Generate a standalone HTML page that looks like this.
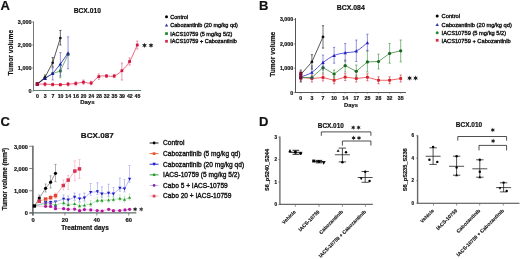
<!DOCTYPE html>
<html><head><meta charset="utf-8"><style>
html,body{margin:0;padding:0;background:#fff;}
svg{display:block;will-change:transform;}
text{font-family:"Liberation Sans", sans-serif;}
</style></head><body>
<svg width="520" height="259" viewBox="0 0 520 259">
<rect width="520" height="259" fill="#fff"/>
<text x="0.50" y="10.20" font-size="13" font-weight="bold" text-anchor="start" fill="#111" stroke="#111" stroke-width="0.18">A</text>
<text x="259.00" y="10.20" font-size="13" font-weight="bold" text-anchor="start" fill="#111" stroke="#111" stroke-width="0.18">B</text>
<text x="0.50" y="126.20" font-size="13" font-weight="bold" text-anchor="start" fill="#111" stroke="#111" stroke-width="0.18">C</text>
<text x="259.00" y="126.00" font-size="13" font-weight="bold" text-anchor="start" fill="#111" stroke="#111" stroke-width="0.18">D</text>
<line x1="33.50" y1="21.50" x2="33.50" y2="90.50" stroke="#777" stroke-width="1.0" opacity="1"/>
<line x1="33.00" y1="90.50" x2="141.20" y2="90.50" stroke="#5f7f77" stroke-width="1.0" opacity="1"/>
<line x1="32.20" y1="91.00" x2="33.60" y2="91.00" stroke="#5f6a6a" stroke-width="0.7" opacity="1"/>
<line x1="32.20" y1="68.00" x2="33.60" y2="68.00" stroke="#5f6a6a" stroke-width="0.7" opacity="1"/>
<line x1="32.20" y1="45.00" x2="33.60" y2="45.00" stroke="#5f6a6a" stroke-width="0.7" opacity="1"/>
<line x1="32.20" y1="22.00" x2="33.60" y2="22.00" stroke="#5f6a6a" stroke-width="0.7" opacity="1"/>
<text x="31.60" y="24.10" font-size="5.5" font-weight="bold" text-anchor="end" fill="#111" stroke="#111" stroke-width="0.18">3,000</text>
<text x="31.60" y="47.10" font-size="5.5" font-weight="bold" text-anchor="end" fill="#111" stroke="#111" stroke-width="0.18">2,000</text>
<text x="31.60" y="70.10" font-size="5.5" font-weight="bold" text-anchor="end" fill="#111" stroke="#111" stroke-width="0.18">1,000</text>
<text x="31.60" y="93.10" font-size="5.5" font-weight="bold" text-anchor="end" fill="#111" stroke="#111" stroke-width="0.18">0</text>
<text x="37.50" y="97.70" font-size="5.2" font-weight="bold" text-anchor="middle" fill="#111" stroke="#111" stroke-width="0.18">0</text>
<text x="45.19" y="97.70" font-size="5.2" font-weight="bold" text-anchor="middle" fill="#111" stroke="#111" stroke-width="0.18">3</text>
<text x="52.88" y="97.70" font-size="5.2" font-weight="bold" text-anchor="middle" fill="#111" stroke="#111" stroke-width="0.18">7</text>
<text x="60.57" y="97.70" font-size="5.2" font-weight="bold" text-anchor="middle" fill="#111" stroke="#111" stroke-width="0.18">10</text>
<text x="68.26" y="97.70" font-size="5.2" font-weight="bold" text-anchor="middle" fill="#111" stroke="#111" stroke-width="0.18">14</text>
<text x="75.95" y="97.70" font-size="5.2" font-weight="bold" text-anchor="middle" fill="#111" stroke="#111" stroke-width="0.18">16</text>
<text x="83.64" y="97.70" font-size="5.2" font-weight="bold" text-anchor="middle" fill="#111" stroke="#111" stroke-width="0.18">20</text>
<text x="91.33" y="97.70" font-size="5.2" font-weight="bold" text-anchor="middle" fill="#111" stroke="#111" stroke-width="0.18">24</text>
<text x="99.02" y="97.70" font-size="5.2" font-weight="bold" text-anchor="middle" fill="#111" stroke="#111" stroke-width="0.18">28</text>
<text x="106.71" y="97.70" font-size="5.2" font-weight="bold" text-anchor="middle" fill="#111" stroke="#111" stroke-width="0.18">32</text>
<text x="114.40" y="97.70" font-size="5.2" font-weight="bold" text-anchor="middle" fill="#111" stroke="#111" stroke-width="0.18">35</text>
<text x="122.09" y="97.70" font-size="5.2" font-weight="bold" text-anchor="middle" fill="#111" stroke="#111" stroke-width="0.18">39</text>
<text x="129.78" y="97.70" font-size="5.2" font-weight="bold" text-anchor="middle" fill="#111" stroke="#111" stroke-width="0.18">42</text>
<text x="137.47" y="97.70" font-size="5.2" font-weight="bold" text-anchor="middle" fill="#111" stroke="#111" stroke-width="0.18">45</text>
<text x="87.30" y="104.40" font-size="6.0" font-weight="bold" text-anchor="middle" fill="#111" stroke="#111" stroke-width="0.18">Days</text>
<text x="12.90" y="52.70" font-size="6.7" font-weight="bold" text-anchor="middle" fill="#111" transform="rotate(-90 12.90 52.70)" textLength="45.6" lengthAdjust="spacingAndGlyphs" stroke="#111" stroke-width="0.18">Tumor volume</text>
<text x="87.30" y="12.95" font-size="7.1" font-weight="bold" text-anchor="middle" fill="#111" textLength="27.2" lengthAdjust="spacingAndGlyphs" stroke="#111" stroke-width="0.18">BCX.010</text>
<path d="M144.50,42.70 L145.12,44.32 L146.84,44.05 L145.75,45.40 L146.84,46.75 L145.12,46.48 L144.50,48.10 L143.88,46.48 L142.16,46.75 L143.25,45.40 L142.16,44.05 L143.88,44.32Z" fill="#222"/>
<path d="M151.00,42.70 L151.62,44.32 L153.34,44.05 L152.25,45.40 L153.34,46.75 L151.62,46.48 L151.00,48.10 L150.38,46.48 L148.66,46.75 L149.75,45.40 L148.66,44.05 L150.38,44.32Z" fill="#222"/>
<circle cx="166.50" cy="16.70" r="1.50" fill="#000" opacity="1"/>
<polygon points="166.50,23.44 164.84,26.48 168.16,26.48" fill="#3232a8" opacity="1"/>
<rect x="165.12" y="32.22" width="2.76" height="2.76" fill="#1f8a35" opacity="1"/>
<rect x="165.12" y="39.92" width="2.76" height="2.76" fill="#d83048" opacity="1"/>
<path d="M37.30,84.00 C38.58,84.03 42.43,84.12 44.99,84.20 C47.55,84.28 50.12,84.42 52.68,84.50 C55.24,84.58 57.81,84.75 60.37,84.70 C62.93,84.65 65.50,84.40 68.06,84.20 C70.62,84.00 73.19,83.83 75.75,83.50 C78.31,83.17 80.88,82.28 83.44,82.20 C86.00,82.12 88.57,83.93 91.13,83.00 C93.69,82.07 96.26,77.77 98.82,76.60 C101.38,75.43 103.95,76.10 106.51,76.00 C109.07,75.90 111.64,76.88 114.20,76.00 C116.76,75.12 119.33,73.12 121.89,70.70 C124.45,68.28 127.02,65.78 129.58,61.50 C132.14,57.22 135.99,47.75 137.27,45.00" fill="none" stroke="#ec3c5c" stroke-width="0.8" opacity="1"/>
<line x1="37.30" y1="82.50" x2="37.30" y2="85.50" stroke="#dc5a78" stroke-width="0.6" opacity="1"/>
<line x1="36.20" y1="82.50" x2="38.40" y2="82.50" stroke="#dc5a78" stroke-width="0.6" opacity="1"/>
<line x1="36.20" y1="85.50" x2="38.40" y2="85.50" stroke="#dc5a78" stroke-width="0.6" opacity="1"/>
<line x1="44.99" y1="82.50" x2="44.99" y2="86.00" stroke="#dc5a78" stroke-width="0.6" opacity="1"/>
<line x1="43.89" y1="82.50" x2="46.09" y2="82.50" stroke="#dc5a78" stroke-width="0.6" opacity="1"/>
<line x1="43.89" y1="86.00" x2="46.09" y2="86.00" stroke="#dc5a78" stroke-width="0.6" opacity="1"/>
<line x1="52.68" y1="83.00" x2="52.68" y2="86.00" stroke="#dc5a78" stroke-width="0.6" opacity="1"/>
<line x1="51.58" y1="83.00" x2="53.78" y2="83.00" stroke="#dc5a78" stroke-width="0.6" opacity="1"/>
<line x1="51.58" y1="86.00" x2="53.78" y2="86.00" stroke="#dc5a78" stroke-width="0.6" opacity="1"/>
<line x1="60.37" y1="83.50" x2="60.37" y2="86.00" stroke="#dc5a78" stroke-width="0.6" opacity="1"/>
<line x1="59.27" y1="83.50" x2="61.47" y2="83.50" stroke="#dc5a78" stroke-width="0.6" opacity="1"/>
<line x1="59.27" y1="86.00" x2="61.47" y2="86.00" stroke="#dc5a78" stroke-width="0.6" opacity="1"/>
<line x1="68.06" y1="82.50" x2="68.06" y2="86.00" stroke="#dc5a78" stroke-width="0.6" opacity="1"/>
<line x1="66.96" y1="82.50" x2="69.16" y2="82.50" stroke="#dc5a78" stroke-width="0.6" opacity="1"/>
<line x1="66.96" y1="86.00" x2="69.16" y2="86.00" stroke="#dc5a78" stroke-width="0.6" opacity="1"/>
<line x1="75.75" y1="81.80" x2="75.75" y2="85.20" stroke="#dc5a78" stroke-width="0.6" opacity="1"/>
<line x1="74.65" y1="81.80" x2="76.85" y2="81.80" stroke="#dc5a78" stroke-width="0.6" opacity="1"/>
<line x1="74.65" y1="85.20" x2="76.85" y2="85.20" stroke="#dc5a78" stroke-width="0.6" opacity="1"/>
<line x1="83.44" y1="80.00" x2="83.44" y2="84.30" stroke="#dc5a78" stroke-width="0.6" opacity="1"/>
<line x1="82.34" y1="80.00" x2="84.54" y2="80.00" stroke="#dc5a78" stroke-width="0.6" opacity="1"/>
<line x1="82.34" y1="84.30" x2="84.54" y2="84.30" stroke="#dc5a78" stroke-width="0.6" opacity="1"/>
<line x1="91.13" y1="81.20" x2="91.13" y2="84.80" stroke="#dc5a78" stroke-width="0.6" opacity="1"/>
<line x1="90.03" y1="81.20" x2="92.23" y2="81.20" stroke="#dc5a78" stroke-width="0.6" opacity="1"/>
<line x1="90.03" y1="84.80" x2="92.23" y2="84.80" stroke="#dc5a78" stroke-width="0.6" opacity="1"/>
<line x1="98.82" y1="74.00" x2="98.82" y2="79.30" stroke="#dc5a78" stroke-width="0.6" opacity="1"/>
<line x1="97.72" y1="74.00" x2="99.92" y2="74.00" stroke="#dc5a78" stroke-width="0.6" opacity="1"/>
<line x1="97.72" y1="79.30" x2="99.92" y2="79.30" stroke="#dc5a78" stroke-width="0.6" opacity="1"/>
<line x1="106.51" y1="74.50" x2="106.51" y2="77.60" stroke="#dc5a78" stroke-width="0.6" opacity="1"/>
<line x1="105.41" y1="74.50" x2="107.61" y2="74.50" stroke="#dc5a78" stroke-width="0.6" opacity="1"/>
<line x1="105.41" y1="77.60" x2="107.61" y2="77.60" stroke="#dc5a78" stroke-width="0.6" opacity="1"/>
<line x1="114.20" y1="74.50" x2="114.20" y2="77.60" stroke="#dc5a78" stroke-width="0.6" opacity="1"/>
<line x1="113.10" y1="74.50" x2="115.30" y2="74.50" stroke="#dc5a78" stroke-width="0.6" opacity="1"/>
<line x1="113.10" y1="77.60" x2="115.30" y2="77.60" stroke="#dc5a78" stroke-width="0.6" opacity="1"/>
<line x1="121.89" y1="63.00" x2="121.89" y2="80.00" stroke="#dc5a78" stroke-width="0.6" opacity="1"/>
<line x1="120.79" y1="63.00" x2="122.99" y2="63.00" stroke="#dc5a78" stroke-width="0.6" opacity="1"/>
<line x1="120.79" y1="80.00" x2="122.99" y2="80.00" stroke="#dc5a78" stroke-width="0.6" opacity="1"/>
<line x1="129.58" y1="58.00" x2="129.58" y2="65.00" stroke="#dc5a78" stroke-width="0.6" opacity="1"/>
<line x1="128.48" y1="58.00" x2="130.68" y2="58.00" stroke="#dc5a78" stroke-width="0.6" opacity="1"/>
<line x1="128.48" y1="65.00" x2="130.68" y2="65.00" stroke="#dc5a78" stroke-width="0.6" opacity="1"/>
<line x1="137.27" y1="41.00" x2="137.27" y2="49.00" stroke="#dc5a78" stroke-width="0.6" opacity="1"/>
<line x1="136.17" y1="41.00" x2="138.37" y2="41.00" stroke="#dc5a78" stroke-width="0.6" opacity="1"/>
<line x1="136.17" y1="49.00" x2="138.37" y2="49.00" stroke="#dc5a78" stroke-width="0.6" opacity="1"/>
<rect x="35.92" y="82.62" width="2.76" height="2.76" fill="#d0143c" opacity="1"/>
<rect x="43.61" y="82.82" width="2.76" height="2.76" fill="#d0143c" opacity="1"/>
<rect x="51.30" y="83.12" width="2.76" height="2.76" fill="#d0143c" opacity="1"/>
<rect x="58.99" y="83.32" width="2.76" height="2.76" fill="#d0143c" opacity="1"/>
<rect x="66.68" y="82.82" width="2.76" height="2.76" fill="#d0143c" opacity="1"/>
<rect x="74.37" y="82.12" width="2.76" height="2.76" fill="#d0143c" opacity="1"/>
<rect x="82.06" y="80.82" width="2.76" height="2.76" fill="#d0143c" opacity="1"/>
<rect x="89.75" y="81.62" width="2.76" height="2.76" fill="#d0143c" opacity="1"/>
<rect x="97.44" y="75.22" width="2.76" height="2.76" fill="#d0143c" opacity="1"/>
<rect x="105.13" y="74.62" width="2.76" height="2.76" fill="#d0143c" opacity="1"/>
<rect x="112.82" y="74.62" width="2.76" height="2.76" fill="#d0143c" opacity="1"/>
<rect x="120.51" y="69.32" width="2.76" height="2.76" fill="#d0143c" opacity="1"/>
<rect x="128.20" y="60.12" width="2.76" height="2.76" fill="#d0143c" opacity="1"/>
<rect x="135.89" y="43.62" width="2.76" height="2.76" fill="#d0143c" opacity="1"/>
<polyline points="37.30,84.00 44.99,78.40 52.68,73.60 60.37,71.00 68.06,54.50" fill="none" stroke="#4a8a4a" stroke-width="0.7" stroke-linejoin="round" opacity="1"/>
<line x1="60.37" y1="66.00" x2="60.37" y2="77.70" stroke="#3a8a3a" stroke-width="0.6" opacity="1"/>
<line x1="59.27" y1="66.00" x2="61.47" y2="66.00" stroke="#3a8a3a" stroke-width="0.6" opacity="1"/>
<line x1="59.27" y1="77.70" x2="61.47" y2="77.70" stroke="#3a8a3a" stroke-width="0.6" opacity="1"/>
<rect x="35.92" y="82.62" width="2.76" height="2.76" fill="#1f6f25" opacity="1"/>
<rect x="43.61" y="77.02" width="2.76" height="2.76" fill="#1f6f25" opacity="1"/>
<rect x="51.30" y="72.22" width="2.76" height="2.76" fill="#1f6f25" opacity="1"/>
<rect x="58.99" y="69.62" width="2.76" height="2.76" fill="#1f6f25" opacity="1"/>
<rect x="66.68" y="53.12" width="2.76" height="2.76" fill="#1f6f25" opacity="1"/>
<polyline points="37.30,84.00 44.99,78.20 52.68,73.60 60.37,64.10 68.06,53.10" fill="none" stroke="#3030b4" stroke-width="0.85" stroke-linejoin="round" opacity="1"/>
<line x1="52.68" y1="68.00" x2="52.68" y2="80.00" stroke="#5050c4" stroke-width="0.6" opacity="1"/>
<line x1="51.58" y1="68.00" x2="53.78" y2="68.00" stroke="#5050c4" stroke-width="0.6" opacity="1"/>
<line x1="51.58" y1="80.00" x2="53.78" y2="80.00" stroke="#5050c4" stroke-width="0.6" opacity="1"/>
<line x1="60.37" y1="52.60" x2="60.37" y2="76.00" stroke="#5050c4" stroke-width="0.6" opacity="1"/>
<line x1="59.27" y1="52.60" x2="61.47" y2="52.60" stroke="#5050c4" stroke-width="0.6" opacity="1"/>
<line x1="59.27" y1="76.00" x2="61.47" y2="76.00" stroke="#5050c4" stroke-width="0.6" opacity="1"/>
<line x1="68.06" y1="36.90" x2="68.06" y2="68.80" stroke="#5050c4" stroke-width="0.6" opacity="1"/>
<line x1="66.96" y1="36.90" x2="69.16" y2="36.90" stroke="#5050c4" stroke-width="0.6" opacity="1"/>
<line x1="66.96" y1="68.80" x2="69.16" y2="68.80" stroke="#5050c4" stroke-width="0.6" opacity="1"/>
<polygon points="37.30,82.27 35.57,85.44 39.03,85.44" fill="#1e1ea0" opacity="1"/>
<polygon points="44.99,76.47 43.26,79.64 46.72,79.64" fill="#1e1ea0" opacity="1"/>
<polygon points="52.68,71.87 50.95,75.04 54.41,75.04" fill="#1e1ea0" opacity="1"/>
<polygon points="60.37,62.37 58.64,65.54 62.10,65.54" fill="#1e1ea0" opacity="1"/>
<polygon points="68.06,51.37 66.33,54.54 69.79,54.54" fill="#1e1ea0" opacity="1"/>
<polyline points="37.30,84.00 44.99,77.20 52.68,62.70 60.37,38.00" fill="none" stroke="#111" stroke-width="0.7" stroke-linejoin="round" opacity="1"/>
<line x1="44.99" y1="75.00" x2="44.99" y2="79.50" stroke="#111" stroke-width="0.6" opacity="1"/>
<line x1="43.89" y1="75.00" x2="46.09" y2="75.00" stroke="#111" stroke-width="0.6" opacity="1"/>
<line x1="43.89" y1="79.50" x2="46.09" y2="79.50" stroke="#111" stroke-width="0.6" opacity="1"/>
<line x1="52.68" y1="57.50" x2="52.68" y2="67.00" stroke="#111" stroke-width="0.6" opacity="1"/>
<line x1="51.58" y1="57.50" x2="53.78" y2="57.50" stroke="#111" stroke-width="0.6" opacity="1"/>
<line x1="51.58" y1="67.00" x2="53.78" y2="67.00" stroke="#111" stroke-width="0.6" opacity="1"/>
<line x1="60.37" y1="30.40" x2="60.37" y2="45.00" stroke="#111" stroke-width="0.6" opacity="1"/>
<line x1="59.27" y1="30.40" x2="61.47" y2="30.40" stroke="#111" stroke-width="0.6" opacity="1"/>
<line x1="59.27" y1="45.00" x2="61.47" y2="45.00" stroke="#111" stroke-width="0.6" opacity="1"/>
<circle cx="37.30" cy="84.00" r="1.32" fill="#111" opacity="1"/>
<circle cx="44.99" cy="77.20" r="1.32" fill="#111" opacity="1"/>
<circle cx="52.68" cy="62.70" r="1.32" fill="#111" opacity="1"/>
<circle cx="60.37" cy="38.00" r="1.32" fill="#111" opacity="1"/>
<polygon points="44.99,76.67 43.26,79.84 46.72,79.84" fill="#1e1ea0" opacity="1"/>
<rect x="35.56" y="82.26" width="3.48" height="3.48" fill="#a01030" opacity="1"/>
<text x="170.30" y="18.60" font-size="5.5" font-weight="normal" text-anchor="start" fill="#111" stroke="#111" stroke-width="0.35">Control</text>
<text x="170.30" y="27.00" font-size="5.5" font-weight="normal" text-anchor="start" fill="#111" stroke="#111" stroke-width="0.35">Cabozantinib (20 mg/kg qd)</text>
<text x="170.30" y="35.50" font-size="5.5" font-weight="normal" text-anchor="start" fill="#111" stroke="#111" stroke-width="0.35">IACS10759 (5 mg/kg 5/2)</text>
<text x="170.30" y="43.20" font-size="5.5" font-weight="normal" text-anchor="start" fill="#111" stroke="#111" stroke-width="0.35">IACS10759 + Cabozantinib</text>
<line x1="295.50" y1="18.00" x2="295.50" y2="92.50" stroke="#555" stroke-width="1.0" opacity="1"/>
<line x1="295.00" y1="92.50" x2="406.00" y2="92.50" stroke="#555" stroke-width="1.0" opacity="1"/>
<line x1="293.70" y1="19.50" x2="295.20" y2="19.50" stroke="#5f6a6a" stroke-width="0.7" opacity="1"/>
<line x1="293.70" y1="43.90" x2="295.20" y2="43.90" stroke="#5f6a6a" stroke-width="0.7" opacity="1"/>
<line x1="293.70" y1="68.20" x2="295.20" y2="68.20" stroke="#5f6a6a" stroke-width="0.7" opacity="1"/>
<line x1="293.70" y1="92.60" x2="295.20" y2="92.60" stroke="#5f6a6a" stroke-width="0.7" opacity="1"/>
<line x1="300.80" y1="92.60" x2="300.80" y2="93.80" stroke="#5f6a6a" stroke-width="0.6" opacity="1"/>
<line x1="311.90" y1="92.60" x2="311.90" y2="93.80" stroke="#5f6a6a" stroke-width="0.6" opacity="1"/>
<line x1="323.00" y1="92.60" x2="323.00" y2="93.80" stroke="#5f6a6a" stroke-width="0.6" opacity="1"/>
<line x1="334.10" y1="92.60" x2="334.10" y2="93.80" stroke="#5f6a6a" stroke-width="0.6" opacity="1"/>
<line x1="345.20" y1="92.60" x2="345.20" y2="93.80" stroke="#5f6a6a" stroke-width="0.6" opacity="1"/>
<line x1="356.30" y1="92.60" x2="356.30" y2="93.80" stroke="#5f6a6a" stroke-width="0.6" opacity="1"/>
<line x1="367.40" y1="92.60" x2="367.40" y2="93.80" stroke="#5f6a6a" stroke-width="0.6" opacity="1"/>
<line x1="378.50" y1="92.60" x2="378.50" y2="93.80" stroke="#5f6a6a" stroke-width="0.6" opacity="1"/>
<line x1="389.60" y1="92.60" x2="389.60" y2="93.80" stroke="#5f6a6a" stroke-width="0.6" opacity="1"/>
<line x1="400.70" y1="92.60" x2="400.70" y2="93.80" stroke="#5f6a6a" stroke-width="0.6" opacity="1"/>
<text x="293.20" y="21.40" font-size="5.3" font-weight="bold" text-anchor="end" fill="#111" stroke="#111" stroke-width="0.18">3,000</text>
<text x="293.20" y="45.80" font-size="5.3" font-weight="bold" text-anchor="end" fill="#111" stroke="#111" stroke-width="0.18">2,000</text>
<text x="293.20" y="70.10" font-size="5.3" font-weight="bold" text-anchor="end" fill="#111" stroke="#111" stroke-width="0.18">1,000</text>
<text x="293.20" y="94.50" font-size="5.3" font-weight="bold" text-anchor="end" fill="#111" stroke="#111" stroke-width="0.18">0</text>
<text x="300.80" y="99.90" font-size="5.2" font-weight="bold" text-anchor="middle" fill="#111" stroke="#111" stroke-width="0.18">0</text>
<text x="311.90" y="99.90" font-size="5.2" font-weight="bold" text-anchor="middle" fill="#111" stroke="#111" stroke-width="0.18">3</text>
<text x="323.00" y="99.90" font-size="5.2" font-weight="bold" text-anchor="middle" fill="#111" stroke="#111" stroke-width="0.18">7</text>
<text x="334.10" y="99.90" font-size="5.2" font-weight="bold" text-anchor="middle" fill="#111" stroke="#111" stroke-width="0.18">10</text>
<text x="345.20" y="99.90" font-size="5.2" font-weight="bold" text-anchor="middle" fill="#111" stroke="#111" stroke-width="0.18">14</text>
<text x="356.30" y="99.90" font-size="5.2" font-weight="bold" text-anchor="middle" fill="#111" stroke="#111" stroke-width="0.18">17</text>
<text x="367.40" y="99.90" font-size="5.2" font-weight="bold" text-anchor="middle" fill="#111" stroke="#111" stroke-width="0.18">25</text>
<text x="378.50" y="99.90" font-size="5.2" font-weight="bold" text-anchor="middle" fill="#111" stroke="#111" stroke-width="0.18">28</text>
<text x="389.60" y="99.90" font-size="5.2" font-weight="bold" text-anchor="middle" fill="#111" stroke="#111" stroke-width="0.18">32</text>
<text x="400.70" y="99.90" font-size="5.2" font-weight="bold" text-anchor="middle" fill="#111" stroke="#111" stroke-width="0.18">35</text>
<text x="351.00" y="106.50" font-size="5.8" font-weight="bold" text-anchor="middle" fill="#111" stroke="#111" stroke-width="0.18">Days</text>
<text x="274.80" y="54.25" font-size="6.6" font-weight="bold" text-anchor="middle" fill="#111" transform="rotate(-90 274.80 54.25)" textLength="45.0" lengthAdjust="spacingAndGlyphs" stroke="#111" stroke-width="0.18">Tumor volume</text>
<text x="350.80" y="10.00" font-size="6.6" font-weight="bold" text-anchor="middle" fill="#111" textLength="27.9" lengthAdjust="spacingAndGlyphs" stroke="#111" stroke-width="0.18">BCX.084</text>
<path d="M409.60,75.40 L410.23,77.02 L411.94,76.75 L410.85,78.10 L411.94,79.45 L410.23,79.18 L409.60,80.80 L408.98,79.18 L407.26,79.45 L408.35,78.10 L407.26,76.75 L408.98,77.02Z" fill="#222"/>
<path d="M415.60,75.40 L416.23,77.02 L417.94,76.75 L416.85,78.10 L417.94,79.45 L416.23,79.18 L415.60,80.80 L414.98,79.18 L413.26,79.45 L414.35,78.10 L413.26,76.75 L414.98,77.02Z" fill="#222"/>
<circle cx="437.20" cy="16.10" r="1.50" fill="#000" opacity="1"/>
<polygon points="437.20,22.94 435.54,25.98 438.86,25.98" fill="#3232b8" opacity="1"/>
<circle cx="437.20" cy="32.70" r="1.50" fill="#1f8a35" opacity="1"/>
<rect x="435.82" y="38.92" width="2.76" height="2.76" fill="#d83048" opacity="1"/>
<text x="441.60" y="18.40" font-size="5.73" font-weight="normal" text-anchor="start" fill="#111" stroke="#111" stroke-width="0.35">Control</text>
<text x="441.60" y="26.90" font-size="5.73" font-weight="normal" text-anchor="start" fill="#111" stroke="#111" stroke-width="0.35">Cabozantinib (20 mg/kg qd)</text>
<text x="441.60" y="35.00" font-size="5.73" font-weight="normal" text-anchor="start" fill="#111" stroke="#111" stroke-width="0.35">IACS10759 (5 mg/kg 5/2)</text>
<text x="441.60" y="42.60" font-size="5.73" font-weight="normal" text-anchor="start" fill="#111" stroke="#111" stroke-width="0.35">IACS10759 + Cabozantinib</text>
<polyline points="300.80,77.50 311.90,78.50 323.00,77.50 334.10,80.30 345.20,77.10 356.30,78.50 367.40,77.25 378.50,80.25 389.60,80.25 400.70,78.50" fill="none" stroke="#e84040" stroke-width="0.8" stroke-linejoin="round" opacity="1"/>
<line x1="300.80" y1="74.00" x2="300.80" y2="81.00" stroke="#c83040" stroke-width="0.6" opacity="1"/>
<line x1="299.70" y1="74.00" x2="301.90" y2="74.00" stroke="#c83040" stroke-width="0.6" opacity="1"/>
<line x1="299.70" y1="81.00" x2="301.90" y2="81.00" stroke="#c83040" stroke-width="0.6" opacity="1"/>
<line x1="311.90" y1="75.00" x2="311.90" y2="82.00" stroke="#c83040" stroke-width="0.6" opacity="1"/>
<line x1="310.80" y1="75.00" x2="313.00" y2="75.00" stroke="#c83040" stroke-width="0.6" opacity="1"/>
<line x1="310.80" y1="82.00" x2="313.00" y2="82.00" stroke="#c83040" stroke-width="0.6" opacity="1"/>
<line x1="323.00" y1="74.00" x2="323.00" y2="81.00" stroke="#c83040" stroke-width="0.6" opacity="1"/>
<line x1="321.90" y1="74.00" x2="324.10" y2="74.00" stroke="#c83040" stroke-width="0.6" opacity="1"/>
<line x1="321.90" y1="81.00" x2="324.10" y2="81.00" stroke="#c83040" stroke-width="0.6" opacity="1"/>
<line x1="334.10" y1="76.80" x2="334.10" y2="83.80" stroke="#c83040" stroke-width="0.6" opacity="1"/>
<line x1="333.00" y1="76.80" x2="335.20" y2="76.80" stroke="#c83040" stroke-width="0.6" opacity="1"/>
<line x1="333.00" y1="83.80" x2="335.20" y2="83.80" stroke="#c83040" stroke-width="0.6" opacity="1"/>
<line x1="345.20" y1="73.60" x2="345.20" y2="80.60" stroke="#c83040" stroke-width="0.6" opacity="1"/>
<line x1="344.10" y1="73.60" x2="346.30" y2="73.60" stroke="#c83040" stroke-width="0.6" opacity="1"/>
<line x1="344.10" y1="80.60" x2="346.30" y2="80.60" stroke="#c83040" stroke-width="0.6" opacity="1"/>
<line x1="356.30" y1="75.00" x2="356.30" y2="82.00" stroke="#c83040" stroke-width="0.6" opacity="1"/>
<line x1="355.20" y1="75.00" x2="357.40" y2="75.00" stroke="#c83040" stroke-width="0.6" opacity="1"/>
<line x1="355.20" y1="82.00" x2="357.40" y2="82.00" stroke="#c83040" stroke-width="0.6" opacity="1"/>
<line x1="367.40" y1="73.75" x2="367.40" y2="80.75" stroke="#c83040" stroke-width="0.6" opacity="1"/>
<line x1="366.30" y1="73.75" x2="368.50" y2="73.75" stroke="#c83040" stroke-width="0.6" opacity="1"/>
<line x1="366.30" y1="80.75" x2="368.50" y2="80.75" stroke="#c83040" stroke-width="0.6" opacity="1"/>
<line x1="378.50" y1="76.75" x2="378.50" y2="83.75" stroke="#c83040" stroke-width="0.6" opacity="1"/>
<line x1="377.40" y1="76.75" x2="379.60" y2="76.75" stroke="#c83040" stroke-width="0.6" opacity="1"/>
<line x1="377.40" y1="83.75" x2="379.60" y2="83.75" stroke="#c83040" stroke-width="0.6" opacity="1"/>
<line x1="389.60" y1="76.75" x2="389.60" y2="83.75" stroke="#c83040" stroke-width="0.6" opacity="1"/>
<line x1="388.50" y1="76.75" x2="390.70" y2="76.75" stroke="#c83040" stroke-width="0.6" opacity="1"/>
<line x1="388.50" y1="83.75" x2="390.70" y2="83.75" stroke="#c83040" stroke-width="0.6" opacity="1"/>
<line x1="400.70" y1="75.00" x2="400.70" y2="82.00" stroke="#c83040" stroke-width="0.6" opacity="1"/>
<line x1="399.60" y1="75.00" x2="401.80" y2="75.00" stroke="#c83040" stroke-width="0.6" opacity="1"/>
<line x1="399.60" y1="82.00" x2="401.80" y2="82.00" stroke="#c83040" stroke-width="0.6" opacity="1"/>
<rect x="299.42" y="76.12" width="2.76" height="2.76" fill="#d81e2a" opacity="1"/>
<rect x="310.52" y="77.12" width="2.76" height="2.76" fill="#d81e2a" opacity="1"/>
<rect x="321.62" y="76.12" width="2.76" height="2.76" fill="#d81e2a" opacity="1"/>
<rect x="332.72" y="78.92" width="2.76" height="2.76" fill="#d81e2a" opacity="1"/>
<rect x="343.82" y="75.72" width="2.76" height="2.76" fill="#d81e2a" opacity="1"/>
<rect x="354.92" y="77.12" width="2.76" height="2.76" fill="#d81e2a" opacity="1"/>
<rect x="366.02" y="75.87" width="2.76" height="2.76" fill="#d81e2a" opacity="1"/>
<rect x="377.12" y="78.87" width="2.76" height="2.76" fill="#d81e2a" opacity="1"/>
<rect x="388.22" y="78.87" width="2.76" height="2.76" fill="#d81e2a" opacity="1"/>
<rect x="399.32" y="77.12" width="2.76" height="2.76" fill="#d81e2a" opacity="1"/>
<polyline points="300.80,77.50 311.90,77.50 323.00,67.60 334.10,74.00 345.20,65.60 356.30,71.30 367.40,61.90 378.50,61.50 389.60,53.40 400.70,50.80" fill="none" stroke="#3c8a3c" stroke-width="0.8" stroke-linejoin="round" opacity="1"/>
<line x1="323.00" y1="62.00" x2="323.00" y2="73.00" stroke="#3a8a3a" stroke-width="0.6" opacity="1"/>
<line x1="321.90" y1="62.00" x2="324.10" y2="62.00" stroke="#3a8a3a" stroke-width="0.6" opacity="1"/>
<line x1="321.90" y1="73.00" x2="324.10" y2="73.00" stroke="#3a8a3a" stroke-width="0.6" opacity="1"/>
<line x1="334.10" y1="70.00" x2="334.10" y2="78.00" stroke="#3a8a3a" stroke-width="0.6" opacity="1"/>
<line x1="333.00" y1="70.00" x2="335.20" y2="70.00" stroke="#3a8a3a" stroke-width="0.6" opacity="1"/>
<line x1="333.00" y1="78.00" x2="335.20" y2="78.00" stroke="#3a8a3a" stroke-width="0.6" opacity="1"/>
<line x1="345.20" y1="60.00" x2="345.20" y2="72.00" stroke="#3a8a3a" stroke-width="0.6" opacity="1"/>
<line x1="344.10" y1="60.00" x2="346.30" y2="60.00" stroke="#3a8a3a" stroke-width="0.6" opacity="1"/>
<line x1="344.10" y1="72.00" x2="346.30" y2="72.00" stroke="#3a8a3a" stroke-width="0.6" opacity="1"/>
<line x1="356.30" y1="65.00" x2="356.30" y2="77.00" stroke="#3a8a3a" stroke-width="0.6" opacity="1"/>
<line x1="355.20" y1="65.00" x2="357.40" y2="65.00" stroke="#3a8a3a" stroke-width="0.6" opacity="1"/>
<line x1="355.20" y1="77.00" x2="357.40" y2="77.00" stroke="#3a8a3a" stroke-width="0.6" opacity="1"/>
<line x1="367.40" y1="50.40" x2="367.40" y2="72.00" stroke="#3a8a3a" stroke-width="0.6" opacity="1"/>
<line x1="366.30" y1="50.40" x2="368.50" y2="50.40" stroke="#3a8a3a" stroke-width="0.6" opacity="1"/>
<line x1="366.30" y1="72.00" x2="368.50" y2="72.00" stroke="#3a8a3a" stroke-width="0.6" opacity="1"/>
<line x1="378.50" y1="54.20" x2="378.50" y2="69.00" stroke="#3a8a3a" stroke-width="0.6" opacity="1"/>
<line x1="377.40" y1="54.20" x2="379.60" y2="54.20" stroke="#3a8a3a" stroke-width="0.6" opacity="1"/>
<line x1="377.40" y1="69.00" x2="379.60" y2="69.00" stroke="#3a8a3a" stroke-width="0.6" opacity="1"/>
<line x1="389.60" y1="43.40" x2="389.60" y2="63.20" stroke="#3a8a3a" stroke-width="0.6" opacity="1"/>
<line x1="388.50" y1="43.40" x2="390.70" y2="43.40" stroke="#3a8a3a" stroke-width="0.6" opacity="1"/>
<line x1="388.50" y1="63.20" x2="390.70" y2="63.20" stroke="#3a8a3a" stroke-width="0.6" opacity="1"/>
<line x1="400.70" y1="40.00" x2="400.70" y2="61.90" stroke="#3a8a3a" stroke-width="0.6" opacity="1"/>
<line x1="399.60" y1="40.00" x2="401.80" y2="40.00" stroke="#3a8a3a" stroke-width="0.6" opacity="1"/>
<line x1="399.60" y1="61.90" x2="401.80" y2="61.90" stroke="#3a8a3a" stroke-width="0.6" opacity="1"/>
<circle cx="300.80" cy="77.50" r="1.62" fill="#17661d" opacity="1"/>
<circle cx="311.90" cy="77.50" r="1.62" fill="#17661d" opacity="1"/>
<circle cx="323.00" cy="67.60" r="1.62" fill="#17661d" opacity="1"/>
<circle cx="334.10" cy="74.00" r="1.62" fill="#17661d" opacity="1"/>
<circle cx="345.20" cy="65.60" r="1.62" fill="#17661d" opacity="1"/>
<circle cx="356.30" cy="71.30" r="1.62" fill="#17661d" opacity="1"/>
<circle cx="367.40" cy="61.90" r="1.62" fill="#17661d" opacity="1"/>
<circle cx="378.50" cy="61.50" r="1.62" fill="#17661d" opacity="1"/>
<circle cx="389.60" cy="53.40" r="1.62" fill="#17661d" opacity="1"/>
<circle cx="400.70" cy="50.80" r="1.62" fill="#17661d" opacity="1"/>
<path d="M300.80,77.00 C302.65,76.23 308.20,74.80 311.90,72.40 C315.60,70.00 319.30,65.42 323.00,62.60 C326.70,59.78 330.40,57.13 334.10,55.50 C337.80,53.87 341.50,53.55 345.20,52.80 C348.90,52.05 352.60,52.68 356.30,51.00 C360.00,49.32 365.55,44.08 367.40,42.70" fill="none" stroke="#3636d6" stroke-width="0.85" opacity="1"/>
<line x1="311.90" y1="66.00" x2="311.90" y2="79.00" stroke="#4a4ac8" stroke-width="0.6" opacity="1"/>
<line x1="310.80" y1="66.00" x2="313.00" y2="66.00" stroke="#4a4ac8" stroke-width="0.6" opacity="1"/>
<line x1="310.80" y1="79.00" x2="313.00" y2="79.00" stroke="#4a4ac8" stroke-width="0.6" opacity="1"/>
<line x1="323.00" y1="55.10" x2="323.00" y2="70.00" stroke="#4a4ac8" stroke-width="0.6" opacity="1"/>
<line x1="321.90" y1="55.10" x2="324.10" y2="55.10" stroke="#4a4ac8" stroke-width="0.6" opacity="1"/>
<line x1="321.90" y1="70.00" x2="324.10" y2="70.00" stroke="#4a4ac8" stroke-width="0.6" opacity="1"/>
<line x1="334.10" y1="47.40" x2="334.10" y2="63.20" stroke="#4a4ac8" stroke-width="0.6" opacity="1"/>
<line x1="333.00" y1="47.40" x2="335.20" y2="47.40" stroke="#4a4ac8" stroke-width="0.6" opacity="1"/>
<line x1="333.00" y1="63.20" x2="335.20" y2="63.20" stroke="#4a4ac8" stroke-width="0.6" opacity="1"/>
<line x1="345.20" y1="43.60" x2="345.20" y2="61.20" stroke="#4a4ac8" stroke-width="0.6" opacity="1"/>
<line x1="344.10" y1="43.60" x2="346.30" y2="43.60" stroke="#4a4ac8" stroke-width="0.6" opacity="1"/>
<line x1="344.10" y1="61.20" x2="346.30" y2="61.20" stroke="#4a4ac8" stroke-width="0.6" opacity="1"/>
<line x1="356.30" y1="40.00" x2="356.30" y2="61.50" stroke="#4a4ac8" stroke-width="0.6" opacity="1"/>
<line x1="355.20" y1="40.00" x2="357.40" y2="40.00" stroke="#4a4ac8" stroke-width="0.6" opacity="1"/>
<line x1="355.20" y1="61.50" x2="357.40" y2="61.50" stroke="#4a4ac8" stroke-width="0.6" opacity="1"/>
<line x1="367.40" y1="34.20" x2="367.40" y2="51.00" stroke="#4a4ac8" stroke-width="0.6" opacity="1"/>
<line x1="366.30" y1="34.20" x2="368.50" y2="34.20" stroke="#4a4ac8" stroke-width="0.6" opacity="1"/>
<line x1="366.30" y1="51.00" x2="368.50" y2="51.00" stroke="#4a4ac8" stroke-width="0.6" opacity="1"/>
<polygon points="300.80,75.27 299.07,78.44 302.53,78.44" fill="#2222bb" opacity="1"/>
<polygon points="311.90,70.67 310.17,73.84 313.63,73.84" fill="#2222bb" opacity="1"/>
<polygon points="323.00,60.87 321.27,64.04 324.73,64.04" fill="#2222bb" opacity="1"/>
<polygon points="334.10,53.77 332.37,56.94 335.83,56.94" fill="#2222bb" opacity="1"/>
<polygon points="345.20,51.07 343.47,54.24 346.93,54.24" fill="#2222bb" opacity="1"/>
<polygon points="356.30,49.27 354.57,52.44 358.03,52.44" fill="#2222bb" opacity="1"/>
<polygon points="367.40,40.97 365.67,44.14 369.13,44.14" fill="#2222bb" opacity="1"/>
<polyline points="300.80,74.50 311.90,61.90 323.00,36.90" fill="none" stroke="#111" stroke-width="0.7" stroke-linejoin="round" opacity="1"/>
<line x1="300.80" y1="70.00" x2="300.80" y2="82.00" stroke="#3a1020" stroke-width="0.6" opacity="1"/>
<line x1="299.70" y1="70.00" x2="301.90" y2="70.00" stroke="#3a1020" stroke-width="0.6" opacity="1"/>
<line x1="299.70" y1="82.00" x2="301.90" y2="82.00" stroke="#3a1020" stroke-width="0.6" opacity="1"/>
<line x1="311.90" y1="54.70" x2="311.90" y2="69.00" stroke="#111" stroke-width="0.6" opacity="1"/>
<line x1="310.80" y1="54.70" x2="313.00" y2="54.70" stroke="#111" stroke-width="0.6" opacity="1"/>
<line x1="310.80" y1="69.00" x2="313.00" y2="69.00" stroke="#111" stroke-width="0.6" opacity="1"/>
<line x1="323.00" y1="25.70" x2="323.00" y2="48.10" stroke="#111" stroke-width="0.6" opacity="1"/>
<line x1="321.90" y1="25.70" x2="324.10" y2="25.70" stroke="#111" stroke-width="0.6" opacity="1"/>
<line x1="321.90" y1="48.10" x2="324.10" y2="48.10" stroke="#111" stroke-width="0.6" opacity="1"/>
<circle cx="300.80" cy="74.50" r="1.44" fill="#111" opacity="1"/>
<circle cx="311.90" cy="61.90" r="1.44" fill="#111" opacity="1"/>
<circle cx="323.00" cy="36.90" r="1.44" fill="#111" opacity="1"/>
<rect x="299.30" y="71.6" width="3.0" height="8.0" fill="#7a1030"/>
<line x1="32.90" y1="145.80" x2="32.90" y2="215.50" stroke="#555" stroke-width="1.4" opacity="1"/>
<line x1="29.30" y1="212.90" x2="136.30" y2="212.90" stroke="#5a6a6a" stroke-width="1.4" opacity="1"/>
<line x1="29.20" y1="146.25" x2="33.10" y2="146.25" stroke="#5f6a6a" stroke-width="0.8" opacity="1"/>
<line x1="29.20" y1="168.50" x2="33.10" y2="168.50" stroke="#5f6a6a" stroke-width="0.8" opacity="1"/>
<line x1="29.20" y1="190.75" x2="33.10" y2="190.75" stroke="#5f6a6a" stroke-width="0.8" opacity="1"/>
<line x1="29.20" y1="213.00" x2="33.10" y2="213.00" stroke="#5f6a6a" stroke-width="0.8" opacity="1"/>
<line x1="33.00" y1="213.00" x2="33.00" y2="215.50" stroke="#5f6a6a" stroke-width="0.8" opacity="1"/>
<line x1="64.92" y1="213.00" x2="64.92" y2="215.50" stroke="#5f6a6a" stroke-width="0.8" opacity="1"/>
<line x1="96.84" y1="213.00" x2="96.84" y2="215.50" stroke="#5f6a6a" stroke-width="0.8" opacity="1"/>
<line x1="128.76" y1="213.00" x2="128.76" y2="215.50" stroke="#5f6a6a" stroke-width="0.8" opacity="1"/>
<text x="27.90" y="148.80" font-size="5.6" font-weight="bold" text-anchor="end" fill="#111" stroke="#111" stroke-width="0.18">3,000</text>
<text x="27.90" y="171.10" font-size="5.6" font-weight="bold" text-anchor="end" fill="#111" stroke="#111" stroke-width="0.18">2,000</text>
<text x="27.90" y="193.30" font-size="5.6" font-weight="bold" text-anchor="end" fill="#111" stroke="#111" stroke-width="0.18">1,000</text>
<text x="27.90" y="215.20" font-size="5.6" font-weight="bold" text-anchor="end" fill="#111" stroke="#111" stroke-width="0.18">0</text>
<text x="33.00" y="221.90" font-size="5.8" font-weight="bold" text-anchor="middle" fill="#111" stroke="#111" stroke-width="0.18">0</text>
<text x="64.92" y="221.90" font-size="5.8" font-weight="bold" text-anchor="middle" fill="#111" stroke="#111" stroke-width="0.18">20</text>
<text x="96.84" y="221.90" font-size="5.8" font-weight="bold" text-anchor="middle" fill="#111" stroke="#111" stroke-width="0.18">40</text>
<text x="128.76" y="221.90" font-size="5.8" font-weight="bold" text-anchor="middle" fill="#111" stroke="#111" stroke-width="0.18">60</text>
<text x="85.00" y="230.40" font-size="6.6" font-weight="bold" text-anchor="middle" fill="#111" textLength="47.5" lengthAdjust="spacingAndGlyphs" stroke="#111" stroke-width="0.18">Treatment days</text>
<text x="7.20" y="179.00" font-size="6.3" font-weight="bold" text-anchor="middle" fill="#111" transform="rotate(-90 7.20 179.00)" stroke="#111" stroke-width="0.18">Tumor volume (mm<tspan font-size="4.2" dy="-2">3</tspan><tspan dy="2">)</tspan></text>
<text x="97.30" y="138.20" font-size="7.3" font-weight="bold" text-anchor="middle" fill="#111" textLength="32.9" lengthAdjust="spacingAndGlyphs" stroke="#111" stroke-width="0.18">BCX.087</text>
<path d="M135.10,206.70 L135.67,208.20 L137.27,207.95 L136.25,209.20 L137.27,210.45 L135.67,210.20 L135.10,211.70 L134.53,210.20 L132.93,210.45 L133.95,209.20 L132.93,207.95 L134.53,208.20Z" fill="#222"/>
<path d="M141.20,206.70 L141.77,208.20 L143.37,207.95 L142.35,209.20 L143.37,210.45 L141.77,210.20 L141.20,211.70 L140.62,210.20 L139.03,210.45 L140.05,209.20 L139.03,207.95 L140.62,208.20Z" fill="#444"/>
<line x1="149.60" y1="143.00" x2="158.50" y2="143.00" stroke="#000" stroke-width="0.9" opacity="1"/>
<circle cx="154.10" cy="143.00" r="1.38" fill="#000" opacity="1"/>
<text x="163.10" y="145.30" font-size="6.6" font-weight="normal" text-anchor="start" fill="#111" stroke="#111" stroke-width="0.35">Control</text>
<line x1="149.60" y1="153.62" x2="158.50" y2="153.62" stroke="#e85a3a" stroke-width="0.9" opacity="1"/>
<rect x="152.72" y="152.24" width="2.76" height="2.76" fill="#e85a3a" opacity="1"/>
<text x="163.10" y="155.92" font-size="6.6" font-weight="normal" text-anchor="start" fill="#111" stroke="#111" stroke-width="0.35">Cabozantinib (5 mg/kg qd)</text>
<line x1="149.60" y1="164.24" x2="158.50" y2="164.24" stroke="#1a1acc" stroke-width="0.9" opacity="1"/>
<polygon points="154.10,165.90 152.44,162.86 155.76,162.86" fill="#1a1acc" opacity="1"/>
<text x="163.10" y="166.54" font-size="6.6" font-weight="normal" text-anchor="start" fill="#111" stroke="#111" stroke-width="0.35">Cabozantinib (20 mg/kg qd)</text>
<line x1="149.60" y1="174.86" x2="158.50" y2="174.86" stroke="#229a2a" stroke-width="0.9" opacity="1"/>
<circle cx="154.10" cy="174.86" r="1.38" fill="#229a2a" opacity="1"/>
<text x="163.10" y="177.16" font-size="6.6" font-weight="normal" text-anchor="start" fill="#111" stroke="#111" stroke-width="0.35">IACS-10759 (5 mg/kg 5/2)</text>
<line x1="149.60" y1="185.48" x2="158.50" y2="185.48" stroke="#c9a0e6" stroke-width="0.9" opacity="0.85"/>
<circle cx="154.10" cy="185.48" r="1.38" fill="#7a2ab0" opacity="1"/>
<text x="163.10" y="187.78" font-size="6.6" font-weight="normal" text-anchor="start" fill="#111" stroke="#111" stroke-width="0.35">Cabo 5 + IACS-10759</text>
<line x1="149.60" y1="196.10" x2="158.50" y2="196.10" stroke="#f0a0a8" stroke-width="0.9" opacity="0.85"/>
<rect x="152.72" y="194.72" width="2.76" height="2.76" fill="#e0405a" opacity="1"/>
<text x="163.10" y="198.40" font-size="6.6" font-weight="normal" text-anchor="start" fill="#111" stroke="#111" stroke-width="0.35">Cabo 20 + IACS-10759</text>
<polyline points="34.40,206.00 39.30,201.20 45.60,199.10 50.60,197.70 55.50,195.70 63.30,185.50 68.20,180.10 74.80,171.10 79.50,168.90" fill="none" stroke="#e86070" stroke-width="0.6" stroke-linejoin="round" opacity="0.8"/>
<line x1="50.60" y1="195.50" x2="50.60" y2="200.50" stroke="#eb9aaa" stroke-width="0.6" opacity="0.9"/>
<line x1="49.50" y1="195.50" x2="51.70" y2="195.50" stroke="#eb9aaa" stroke-width="0.6" opacity="0.9"/>
<line x1="49.50" y1="200.50" x2="51.70" y2="200.50" stroke="#eb9aaa" stroke-width="0.6" opacity="0.9"/>
<line x1="55.50" y1="193.00" x2="55.50" y2="198.50" stroke="#eb9aaa" stroke-width="0.6" opacity="0.9"/>
<line x1="54.40" y1="193.00" x2="56.60" y2="193.00" stroke="#eb9aaa" stroke-width="0.6" opacity="0.9"/>
<line x1="54.40" y1="198.50" x2="56.60" y2="198.50" stroke="#eb9aaa" stroke-width="0.6" opacity="0.9"/>
<line x1="63.30" y1="180.00" x2="63.30" y2="190.00" stroke="#eb9aaa" stroke-width="0.6" opacity="0.9"/>
<line x1="62.20" y1="180.00" x2="64.40" y2="180.00" stroke="#eb9aaa" stroke-width="0.6" opacity="0.9"/>
<line x1="62.20" y1="190.00" x2="64.40" y2="190.00" stroke="#eb9aaa" stroke-width="0.6" opacity="0.9"/>
<line x1="68.20" y1="175.50" x2="68.20" y2="189.40" stroke="#eb9aaa" stroke-width="0.6" opacity="0.9"/>
<line x1="67.10" y1="175.50" x2="69.30" y2="175.50" stroke="#eb9aaa" stroke-width="0.6" opacity="0.9"/>
<line x1="67.10" y1="189.40" x2="69.30" y2="189.40" stroke="#eb9aaa" stroke-width="0.6" opacity="0.9"/>
<line x1="74.80" y1="160.80" x2="74.80" y2="180.90" stroke="#eb9aaa" stroke-width="0.6" opacity="0.9"/>
<line x1="73.70" y1="160.80" x2="75.90" y2="160.80" stroke="#eb9aaa" stroke-width="0.6" opacity="0.9"/>
<line x1="73.70" y1="180.90" x2="75.90" y2="180.90" stroke="#eb9aaa" stroke-width="0.6" opacity="0.9"/>
<line x1="79.50" y1="159.60" x2="79.50" y2="178.50" stroke="#eb9aaa" stroke-width="0.6" opacity="0.9"/>
<line x1="78.40" y1="159.60" x2="80.60" y2="159.60" stroke="#eb9aaa" stroke-width="0.6" opacity="0.9"/>
<line x1="78.40" y1="178.50" x2="80.60" y2="178.50" stroke="#eb9aaa" stroke-width="0.6" opacity="0.9"/>
<rect x="37.56" y="199.46" width="3.48" height="3.48" fill="#e2452e" opacity="1"/>
<rect x="43.86" y="197.36" width="3.48" height="3.48" fill="#e2452e" opacity="1"/>
<rect x="48.86" y="195.96" width="3.48" height="3.48" fill="#e2452e" opacity="1"/>
<rect x="53.76" y="193.96" width="3.48" height="3.48" fill="#e2452e" opacity="1"/>
<rect x="61.56" y="183.76" width="3.48" height="3.48" fill="#dc3050" opacity="1"/>
<rect x="66.46" y="178.36" width="3.48" height="3.48" fill="#dc3050" opacity="1"/>
<rect x="73.06" y="169.36" width="3.48" height="3.48" fill="#dc3050" opacity="1"/>
<rect x="77.76" y="167.16" width="3.48" height="3.48" fill="#dc3050" opacity="1"/>
<polyline points="34.40,206.00 45.60,202.40 50.60,202.40 55.50,201.80 63.60,199.10 68.20,200.00 74.60,197.20 79.60,198.90 84.40,198.00 90.70,192.30 97.40,191.60 101.90,194.00 108.60,193.20 113.40,194.00 119.90,188.20 124.50,188.90 129.60,179.20" fill="none" stroke="#6a6ae8" stroke-width="0.6" stroke-linejoin="round" opacity="0.8"/>
<line x1="63.60" y1="195.00" x2="63.60" y2="202.10" stroke="#8a8af0" stroke-width="0.6" opacity="0.9"/>
<line x1="62.50" y1="195.00" x2="64.70" y2="195.00" stroke="#8a8af0" stroke-width="0.6" opacity="0.9"/>
<line x1="62.50" y1="202.10" x2="64.70" y2="202.10" stroke="#8a8af0" stroke-width="0.6" opacity="0.9"/>
<line x1="68.20" y1="196.00" x2="68.20" y2="203.00" stroke="#8a8af0" stroke-width="0.6" opacity="0.9"/>
<line x1="67.10" y1="196.00" x2="69.30" y2="196.00" stroke="#8a8af0" stroke-width="0.6" opacity="0.9"/>
<line x1="67.10" y1="203.00" x2="69.30" y2="203.00" stroke="#8a8af0" stroke-width="0.6" opacity="0.9"/>
<line x1="74.60" y1="193.00" x2="74.60" y2="200.20" stroke="#8a8af0" stroke-width="0.6" opacity="0.9"/>
<line x1="73.50" y1="193.00" x2="75.70" y2="193.00" stroke="#8a8af0" stroke-width="0.6" opacity="0.9"/>
<line x1="73.50" y1="200.20" x2="75.70" y2="200.20" stroke="#8a8af0" stroke-width="0.6" opacity="0.9"/>
<line x1="79.60" y1="194.00" x2="79.60" y2="201.90" stroke="#8a8af0" stroke-width="0.6" opacity="0.9"/>
<line x1="78.50" y1="194.00" x2="80.70" y2="194.00" stroke="#8a8af0" stroke-width="0.6" opacity="0.9"/>
<line x1="78.50" y1="201.90" x2="80.70" y2="201.90" stroke="#8a8af0" stroke-width="0.6" opacity="0.9"/>
<line x1="84.40" y1="193.00" x2="84.40" y2="201.00" stroke="#8a8af0" stroke-width="0.6" opacity="0.9"/>
<line x1="83.30" y1="193.00" x2="85.50" y2="193.00" stroke="#8a8af0" stroke-width="0.6" opacity="0.9"/>
<line x1="83.30" y1="201.00" x2="85.50" y2="201.00" stroke="#8a8af0" stroke-width="0.6" opacity="0.9"/>
<line x1="90.70" y1="183.50" x2="90.70" y2="195.30" stroke="#8a8af0" stroke-width="0.6" opacity="0.9"/>
<line x1="89.60" y1="183.50" x2="91.80" y2="183.50" stroke="#8a8af0" stroke-width="0.6" opacity="0.9"/>
<line x1="89.60" y1="195.30" x2="91.80" y2="195.30" stroke="#8a8af0" stroke-width="0.6" opacity="0.9"/>
<line x1="97.40" y1="182.80" x2="97.40" y2="194.60" stroke="#8a8af0" stroke-width="0.6" opacity="0.9"/>
<line x1="96.30" y1="182.80" x2="98.50" y2="182.80" stroke="#8a8af0" stroke-width="0.6" opacity="0.9"/>
<line x1="96.30" y1="194.60" x2="98.50" y2="194.60" stroke="#8a8af0" stroke-width="0.6" opacity="0.9"/>
<line x1="101.90" y1="186.90" x2="101.90" y2="197.00" stroke="#8a8af0" stroke-width="0.6" opacity="0.9"/>
<line x1="100.80" y1="186.90" x2="103.00" y2="186.90" stroke="#8a8af0" stroke-width="0.6" opacity="0.9"/>
<line x1="100.80" y1="197.00" x2="103.00" y2="197.00" stroke="#8a8af0" stroke-width="0.6" opacity="0.9"/>
<line x1="108.60" y1="184.20" x2="108.60" y2="196.20" stroke="#8a8af0" stroke-width="0.6" opacity="0.9"/>
<line x1="107.50" y1="184.20" x2="109.70" y2="184.20" stroke="#8a8af0" stroke-width="0.6" opacity="0.9"/>
<line x1="107.50" y1="196.20" x2="109.70" y2="196.20" stroke="#8a8af0" stroke-width="0.6" opacity="0.9"/>
<line x1="113.40" y1="187.30" x2="113.40" y2="197.00" stroke="#8a8af0" stroke-width="0.6" opacity="0.9"/>
<line x1="112.30" y1="187.30" x2="114.50" y2="187.30" stroke="#8a8af0" stroke-width="0.6" opacity="0.9"/>
<line x1="112.30" y1="197.00" x2="114.50" y2="197.00" stroke="#8a8af0" stroke-width="0.6" opacity="0.9"/>
<line x1="119.90" y1="178.10" x2="119.90" y2="191.20" stroke="#8a8af0" stroke-width="0.6" opacity="0.9"/>
<line x1="118.80" y1="178.10" x2="121.00" y2="178.10" stroke="#8a8af0" stroke-width="0.6" opacity="0.9"/>
<line x1="118.80" y1="191.20" x2="121.00" y2="191.20" stroke="#8a8af0" stroke-width="0.6" opacity="0.9"/>
<line x1="124.50" y1="179.70" x2="124.50" y2="191.90" stroke="#8a8af0" stroke-width="0.6" opacity="0.9"/>
<line x1="123.40" y1="179.70" x2="125.60" y2="179.70" stroke="#8a8af0" stroke-width="0.6" opacity="0.9"/>
<line x1="123.40" y1="191.90" x2="125.60" y2="191.90" stroke="#8a8af0" stroke-width="0.6" opacity="0.9"/>
<line x1="129.60" y1="165.40" x2="129.60" y2="182.20" stroke="#8a8af0" stroke-width="0.6" opacity="0.9"/>
<line x1="128.50" y1="165.40" x2="130.70" y2="165.40" stroke="#8a8af0" stroke-width="0.6" opacity="0.9"/>
<line x1="128.50" y1="182.20" x2="130.70" y2="182.20" stroke="#8a8af0" stroke-width="0.6" opacity="0.9"/>
<polygon points="45.60,204.06 43.94,201.02 47.26,201.02" fill="#1a1acc" opacity="1"/>
<polygon points="50.60,204.06 48.94,201.02 52.26,201.02" fill="#1a1acc" opacity="1"/>
<polygon points="55.50,203.46 53.84,200.42 57.16,200.42" fill="#1a1acc" opacity="1"/>
<polygon points="63.60,200.76 61.94,197.72 65.26,197.72" fill="#1a1acc" opacity="1"/>
<polygon points="68.20,201.66 66.54,198.62 69.86,198.62" fill="#1a1acc" opacity="1"/>
<polygon points="74.60,198.86 72.94,195.82 76.26,195.82" fill="#1a1acc" opacity="1"/>
<polygon points="79.60,200.56 77.94,197.52 81.26,197.52" fill="#1a1acc" opacity="1"/>
<polygon points="84.40,199.66 82.74,196.62 86.06,196.62" fill="#1a1acc" opacity="1"/>
<polygon points="90.70,193.96 89.04,190.92 92.36,190.92" fill="#1a1acc" opacity="1"/>
<polygon points="97.40,193.26 95.74,190.22 99.06,190.22" fill="#1a1acc" opacity="1"/>
<polygon points="101.90,195.66 100.24,192.62 103.56,192.62" fill="#1a1acc" opacity="1"/>
<polygon points="108.60,194.86 106.94,191.82 110.26,191.82" fill="#1a1acc" opacity="1"/>
<polygon points="113.40,195.66 111.74,192.62 115.06,192.62" fill="#1a1acc" opacity="1"/>
<polygon points="119.90,189.86 118.24,186.82 121.56,186.82" fill="#1a1acc" opacity="1"/>
<polygon points="124.50,190.56 122.84,187.52 126.16,187.52" fill="#1a1acc" opacity="1"/>
<polygon points="129.60,180.86 127.94,177.82 131.26,177.82" fill="#1a1acc" opacity="1"/>
<polyline points="34.40,206.00 45.60,203.50 55.50,204.70 63.60,203.00 68.20,204.70 74.60,203.80 79.60,205.90 84.40,205.30 90.70,204.00 97.40,200.40 101.90,200.40 108.60,200.00 113.40,199.50 119.90,198.40 124.50,199.50 129.60,197.50" fill="none" stroke="#6ac46a" stroke-width="0.6" stroke-linejoin="round" opacity="0.8"/>
<line x1="45.60" y1="200.00" x2="45.60" y2="206.00" stroke="#8ad08a" stroke-width="0.5" opacity="0.8"/>
<line x1="44.60" y1="200.00" x2="46.60" y2="200.00" stroke="#8ad08a" stroke-width="0.5" opacity="0.8"/>
<line x1="44.60" y1="206.00" x2="46.60" y2="206.00" stroke="#8ad08a" stroke-width="0.5" opacity="0.8"/>
<line x1="55.50" y1="201.20" x2="55.50" y2="207.20" stroke="#8ad08a" stroke-width="0.5" opacity="0.8"/>
<line x1="54.50" y1="201.20" x2="56.50" y2="201.20" stroke="#8ad08a" stroke-width="0.5" opacity="0.8"/>
<line x1="54.50" y1="207.20" x2="56.50" y2="207.20" stroke="#8ad08a" stroke-width="0.5" opacity="0.8"/>
<line x1="63.60" y1="199.50" x2="63.60" y2="205.50" stroke="#8ad08a" stroke-width="0.5" opacity="0.8"/>
<line x1="62.60" y1="199.50" x2="64.60" y2="199.50" stroke="#8ad08a" stroke-width="0.5" opacity="0.8"/>
<line x1="62.60" y1="205.50" x2="64.60" y2="205.50" stroke="#8ad08a" stroke-width="0.5" opacity="0.8"/>
<line x1="68.20" y1="201.20" x2="68.20" y2="207.20" stroke="#8ad08a" stroke-width="0.5" opacity="0.8"/>
<line x1="67.20" y1="201.20" x2="69.20" y2="201.20" stroke="#8ad08a" stroke-width="0.5" opacity="0.8"/>
<line x1="67.20" y1="207.20" x2="69.20" y2="207.20" stroke="#8ad08a" stroke-width="0.5" opacity="0.8"/>
<line x1="74.60" y1="200.30" x2="74.60" y2="206.30" stroke="#8ad08a" stroke-width="0.5" opacity="0.8"/>
<line x1="73.60" y1="200.30" x2="75.60" y2="200.30" stroke="#8ad08a" stroke-width="0.5" opacity="0.8"/>
<line x1="73.60" y1="206.30" x2="75.60" y2="206.30" stroke="#8ad08a" stroke-width="0.5" opacity="0.8"/>
<line x1="79.60" y1="202.40" x2="79.60" y2="208.40" stroke="#8ad08a" stroke-width="0.5" opacity="0.8"/>
<line x1="78.60" y1="202.40" x2="80.60" y2="202.40" stroke="#8ad08a" stroke-width="0.5" opacity="0.8"/>
<line x1="78.60" y1="208.40" x2="80.60" y2="208.40" stroke="#8ad08a" stroke-width="0.5" opacity="0.8"/>
<line x1="84.40" y1="201.80" x2="84.40" y2="207.80" stroke="#8ad08a" stroke-width="0.5" opacity="0.8"/>
<line x1="83.40" y1="201.80" x2="85.40" y2="201.80" stroke="#8ad08a" stroke-width="0.5" opacity="0.8"/>
<line x1="83.40" y1="207.80" x2="85.40" y2="207.80" stroke="#8ad08a" stroke-width="0.5" opacity="0.8"/>
<line x1="90.70" y1="200.50" x2="90.70" y2="206.50" stroke="#8ad08a" stroke-width="0.5" opacity="0.8"/>
<line x1="89.70" y1="200.50" x2="91.70" y2="200.50" stroke="#8ad08a" stroke-width="0.5" opacity="0.8"/>
<line x1="89.70" y1="206.50" x2="91.70" y2="206.50" stroke="#8ad08a" stroke-width="0.5" opacity="0.8"/>
<line x1="97.40" y1="196.90" x2="97.40" y2="202.90" stroke="#8ad08a" stroke-width="0.5" opacity="0.8"/>
<line x1="96.40" y1="196.90" x2="98.40" y2="196.90" stroke="#8ad08a" stroke-width="0.5" opacity="0.8"/>
<line x1="96.40" y1="202.90" x2="98.40" y2="202.90" stroke="#8ad08a" stroke-width="0.5" opacity="0.8"/>
<line x1="101.90" y1="196.90" x2="101.90" y2="202.90" stroke="#8ad08a" stroke-width="0.5" opacity="0.8"/>
<line x1="100.90" y1="196.90" x2="102.90" y2="196.90" stroke="#8ad08a" stroke-width="0.5" opacity="0.8"/>
<line x1="100.90" y1="202.90" x2="102.90" y2="202.90" stroke="#8ad08a" stroke-width="0.5" opacity="0.8"/>
<line x1="108.60" y1="196.50" x2="108.60" y2="202.50" stroke="#8ad08a" stroke-width="0.5" opacity="0.8"/>
<line x1="107.60" y1="196.50" x2="109.60" y2="196.50" stroke="#8ad08a" stroke-width="0.5" opacity="0.8"/>
<line x1="107.60" y1="202.50" x2="109.60" y2="202.50" stroke="#8ad08a" stroke-width="0.5" opacity="0.8"/>
<line x1="113.40" y1="196.00" x2="113.40" y2="202.00" stroke="#8ad08a" stroke-width="0.5" opacity="0.8"/>
<line x1="112.40" y1="196.00" x2="114.40" y2="196.00" stroke="#8ad08a" stroke-width="0.5" opacity="0.8"/>
<line x1="112.40" y1="202.00" x2="114.40" y2="202.00" stroke="#8ad08a" stroke-width="0.5" opacity="0.8"/>
<line x1="119.90" y1="194.90" x2="119.90" y2="200.90" stroke="#8ad08a" stroke-width="0.5" opacity="0.8"/>
<line x1="118.90" y1="194.90" x2="120.90" y2="194.90" stroke="#8ad08a" stroke-width="0.5" opacity="0.8"/>
<line x1="118.90" y1="200.90" x2="120.90" y2="200.90" stroke="#8ad08a" stroke-width="0.5" opacity="0.8"/>
<line x1="124.50" y1="196.00" x2="124.50" y2="202.00" stroke="#8ad08a" stroke-width="0.5" opacity="0.8"/>
<line x1="123.50" y1="196.00" x2="125.50" y2="196.00" stroke="#8ad08a" stroke-width="0.5" opacity="0.8"/>
<line x1="123.50" y1="202.00" x2="125.50" y2="202.00" stroke="#8ad08a" stroke-width="0.5" opacity="0.8"/>
<line x1="129.60" y1="194.00" x2="129.60" y2="200.00" stroke="#8ad08a" stroke-width="0.5" opacity="0.8"/>
<line x1="128.60" y1="194.00" x2="130.60" y2="194.00" stroke="#8ad08a" stroke-width="0.5" opacity="0.8"/>
<line x1="128.60" y1="200.00" x2="130.60" y2="200.00" stroke="#8ad08a" stroke-width="0.5" opacity="0.8"/>
<polygon points="45.60,201.92 44.02,204.82 47.18,204.82" fill="#229a2a" opacity="1"/>
<polygon points="55.50,203.12 53.92,206.02 57.08,206.02" fill="#229a2a" opacity="1"/>
<polygon points="63.60,201.42 62.02,204.32 65.18,204.32" fill="#229a2a" opacity="1"/>
<polygon points="68.20,203.12 66.62,206.02 69.78,206.02" fill="#229a2a" opacity="1"/>
<polygon points="74.60,202.22 73.02,205.12 76.18,205.12" fill="#229a2a" opacity="1"/>
<polygon points="79.60,204.32 78.02,207.22 81.18,207.22" fill="#229a2a" opacity="1"/>
<polygon points="84.40,203.72 82.82,206.62 85.98,206.62" fill="#229a2a" opacity="1"/>
<polygon points="90.70,202.42 89.12,205.32 92.28,205.32" fill="#229a2a" opacity="1"/>
<polygon points="97.40,198.82 95.82,201.72 98.98,201.72" fill="#229a2a" opacity="1"/>
<polygon points="101.90,198.82 100.32,201.72 103.48,201.72" fill="#229a2a" opacity="1"/>
<polygon points="108.60,198.42 107.02,201.32 110.18,201.32" fill="#229a2a" opacity="1"/>
<polygon points="113.40,197.92 111.82,200.82 114.98,200.82" fill="#229a2a" opacity="1"/>
<polygon points="119.90,196.82 118.32,199.72 121.48,199.72" fill="#229a2a" opacity="1"/>
<polygon points="124.50,197.92 122.92,200.82 126.08,200.82" fill="#229a2a" opacity="1"/>
<polygon points="129.60,195.92 128.02,198.82 131.18,198.82" fill="#229a2a" opacity="1"/>
<polyline points="34.40,206.00 45.60,206.30 50.60,206.40 55.50,208.70 63.60,208.70 68.20,209.30 74.60,209.10 79.60,210.70 84.40,209.60 90.80,209.90 97.20,210.50 102.10,211.00 108.70,209.30 113.40,210.70 119.75,210.50 125.00,209.90 129.60,209.30" fill="none" stroke="#d070d0" stroke-width="0.6" stroke-linejoin="round" opacity="0.8"/>
<circle cx="45.60" cy="206.30" r="1.62" fill="#b5169a" opacity="1"/>
<circle cx="50.60" cy="206.40" r="1.62" fill="#b5169a" opacity="1"/>
<circle cx="55.50" cy="208.70" r="1.62" fill="#b5169a" opacity="1"/>
<circle cx="63.60" cy="208.70" r="1.62" fill="#b5169a" opacity="1"/>
<circle cx="68.20" cy="209.30" r="1.62" fill="#b5169a" opacity="1"/>
<circle cx="74.60" cy="209.10" r="1.62" fill="#b5169a" opacity="1"/>
<circle cx="79.60" cy="210.70" r="1.62" fill="#b5169a" opacity="1"/>
<circle cx="84.40" cy="209.60" r="1.62" fill="#b5169a" opacity="1"/>
<circle cx="90.80" cy="209.90" r="1.62" fill="#b5169a" opacity="1"/>
<circle cx="97.20" cy="210.50" r="1.62" fill="#b5169a" opacity="1"/>
<circle cx="102.10" cy="211.00" r="1.62" fill="#b5169a" opacity="1"/>
<circle cx="108.70" cy="209.30" r="1.62" fill="#b5169a" opacity="1"/>
<circle cx="113.40" cy="210.70" r="1.62" fill="#b5169a" opacity="1"/>
<circle cx="119.75" cy="210.50" r="1.62" fill="#b5169a" opacity="1"/>
<circle cx="125.00" cy="209.90" r="1.62" fill="#b5169a" opacity="1"/>
<circle cx="129.60" cy="209.30" r="1.62" fill="#b5169a" opacity="1"/>
<circle cx="45.60" cy="203.00" r="1.32" fill="#7a2ab0" opacity="1"/>
<circle cx="50.60" cy="203.50" r="1.32" fill="#7a2ab0" opacity="1"/>
<circle cx="55.50" cy="206.50" r="1.32" fill="#7a2ab0" opacity="1"/>
<polyline points="34.40,206.00 39.30,198.10 45.60,188.30 50.60,182.20 55.50,173.30" fill="none" stroke="#555" stroke-width="0.6" stroke-linejoin="round" opacity="1"/>
<line x1="39.30" y1="195.00" x2="39.30" y2="201.00" stroke="#777" stroke-width="0.6" opacity="1"/>
<line x1="38.20" y1="195.00" x2="40.40" y2="195.00" stroke="#777" stroke-width="0.6" opacity="1"/>
<line x1="38.20" y1="201.00" x2="40.40" y2="201.00" stroke="#777" stroke-width="0.6" opacity="1"/>
<line x1="45.60" y1="184.00" x2="45.60" y2="192.00" stroke="#777" stroke-width="0.6" opacity="1"/>
<line x1="44.50" y1="184.00" x2="46.70" y2="184.00" stroke="#777" stroke-width="0.6" opacity="1"/>
<line x1="44.50" y1="192.00" x2="46.70" y2="192.00" stroke="#777" stroke-width="0.6" opacity="1"/>
<line x1="50.60" y1="175.80" x2="50.60" y2="188.00" stroke="#777" stroke-width="0.6" opacity="1"/>
<line x1="49.50" y1="175.80" x2="51.70" y2="175.80" stroke="#777" stroke-width="0.6" opacity="1"/>
<line x1="49.50" y1="188.00" x2="51.70" y2="188.00" stroke="#777" stroke-width="0.6" opacity="1"/>
<line x1="55.50" y1="164.40" x2="55.50" y2="181.60" stroke="#777" stroke-width="0.6" opacity="1"/>
<line x1="54.40" y1="164.40" x2="56.60" y2="164.40" stroke="#777" stroke-width="0.6" opacity="1"/>
<line x1="54.40" y1="181.60" x2="56.60" y2="181.60" stroke="#777" stroke-width="0.6" opacity="1"/>
<circle cx="39.30" cy="198.10" r="1.62" fill="#000" opacity="1"/>
<circle cx="45.60" cy="188.30" r="1.62" fill="#000" opacity="1"/>
<circle cx="50.60" cy="182.20" r="1.62" fill="#000" opacity="1"/>
<circle cx="55.50" cy="173.30" r="1.62" fill="#000" opacity="1"/>
<rect x="32.72" y="204.32" width="3.36" height="3.36" fill="#000" opacity="1"/>
<rect x="37.74" y="199.54" width="3.12" height="3.12" fill="#d03850" opacity="1"/>
<line x1="279.90" y1="136.60" x2="279.90" y2="204.30" stroke="#707070" stroke-width="1.4" opacity="1"/>
<line x1="279.40" y1="204.30" x2="372.80" y2="204.30" stroke="#444" stroke-width="1.0" opacity="1"/>
<line x1="278.30" y1="204.50" x2="280.00" y2="204.50" stroke="#5f6a6a" stroke-width="0.7" opacity="1"/>
<line x1="278.30" y1="182.05" x2="280.00" y2="182.05" stroke="#5f6a6a" stroke-width="0.7" opacity="1"/>
<line x1="278.30" y1="159.60" x2="280.00" y2="159.60" stroke="#5f6a6a" stroke-width="0.7" opacity="1"/>
<line x1="278.30" y1="137.15" x2="280.00" y2="137.15" stroke="#5f6a6a" stroke-width="0.7" opacity="1"/>
<text x="277.00" y="206.10" font-size="4.5" font-weight="bold" text-anchor="end" fill="#111" stroke="#111" stroke-width="0.18">0</text>
<text x="277.00" y="183.65" font-size="4.5" font-weight="bold" text-anchor="end" fill="#111" stroke="#111" stroke-width="0.18">1</text>
<text x="277.00" y="161.20" font-size="4.5" font-weight="bold" text-anchor="end" fill="#111" stroke="#111" stroke-width="0.18">2</text>
<text x="277.00" y="138.75" font-size="4.5" font-weight="bold" text-anchor="end" fill="#111" stroke="#111" stroke-width="0.18">3</text>
<line x1="295.30" y1="204.50" x2="295.30" y2="206.80" stroke="#5f6a6a" stroke-width="0.7" opacity="1"/>
<line x1="319.00" y1="204.50" x2="319.00" y2="206.80" stroke="#5f6a6a" stroke-width="0.7" opacity="1"/>
<line x1="342.40" y1="204.50" x2="342.40" y2="206.80" stroke="#5f6a6a" stroke-width="0.7" opacity="1"/>
<line x1="365.40" y1="204.50" x2="365.40" y2="206.80" stroke="#5f6a6a" stroke-width="0.7" opacity="1"/>
<text x="268.70" y="170.00" font-size="5.3" font-weight="bold" text-anchor="middle" fill="#111" transform="rotate(-90 268.70 170.00)" textLength="42" lengthAdjust="spacingAndGlyphs" stroke="#111" stroke-width="0.18">S6_pS240_S244</text>
<text x="330.80" y="128.10" font-size="6.5" font-weight="bold" text-anchor="middle" fill="#111" textLength="26" lengthAdjust="spacingAndGlyphs" stroke="#111" stroke-width="0.18">BCX.010</text>
<text x="296.30" y="212.20" font-size="5.0" font-weight="bold" text-anchor="end" fill="#111" transform="rotate(-45 296.30 212.20)" stroke="#111" stroke-width="0.12">Vehicle</text>
<text x="320.00" y="212.20" font-size="5.0" font-weight="bold" text-anchor="end" fill="#111" transform="rotate(-45 320.00 212.20)" stroke="#111" stroke-width="0.12">IACS-10759</text>
<text x="343.40" y="212.20" font-size="5.0" font-weight="bold" text-anchor="end" fill="#111" transform="rotate(-45 343.40 212.20)" stroke="#111" stroke-width="0.12">Cabozantinib</text>
<text x="366.40" y="212.20" font-size="5.0" font-weight="bold" text-anchor="end" fill="#111" transform="rotate(-45 366.40 212.20)" stroke="#111" stroke-width="0.12">IACS-10759 + Cabozantinib</text>
<polyline points="321.30,135.80 321.30,131.90 370.90,131.90 370.90,135.80" fill="none" stroke="#222" stroke-width="0.8" stroke-linejoin="round" opacity="1"/>
<polyline points="342.40,145.60 342.40,141.00 370.90,141.00 370.90,145.60" fill="none" stroke="#222" stroke-width="0.8" stroke-linejoin="round" opacity="1"/>
<path d="M353.20,125.20 L353.77,126.60 L355.28,126.40 L354.35,127.60 L355.28,128.80 L353.77,128.60 L353.20,130.00 L352.62,128.60 L351.12,128.80 L352.05,127.60 L351.12,126.40 L352.62,126.60Z" fill="#222"/>
<path d="M358.60,125.20 L359.18,126.60 L360.68,126.40 L359.75,127.60 L360.68,128.80 L359.18,128.60 L358.60,130.00 L358.03,128.60 L356.52,128.80 L357.45,127.60 L356.52,126.40 L358.03,126.60Z" fill="#222"/>
<path d="M353.60,135.50 L354.18,136.90 L355.68,136.70 L354.75,137.90 L355.68,139.10 L354.18,138.90 L353.60,140.30 L353.03,138.90 L351.52,139.10 L352.45,137.90 L351.52,136.70 L353.03,136.90Z" fill="#222"/>
<path d="M359.00,135.50 L359.57,136.90 L361.08,136.70 L360.15,137.90 L361.08,139.10 L359.57,138.90 L359.00,140.30 L358.43,138.90 L356.92,139.10 L357.85,137.90 L356.92,136.70 L358.43,136.90Z" fill="#222"/>
<line x1="289.30" y1="152.30" x2="302.30" y2="152.30" stroke="#222" stroke-width="1.0" opacity="1"/>
<line x1="295.80" y1="150.30" x2="295.80" y2="154.30" stroke="#222" stroke-width="1.0" opacity="1"/>
<line x1="292.50" y1="150.30" x2="299.10" y2="150.30" stroke="#222" stroke-width="1.0" opacity="1"/>
<line x1="292.50" y1="154.30" x2="299.10" y2="154.30" stroke="#222" stroke-width="1.0" opacity="1"/>
<polygon points="290.00,148.97 288.27,152.14 291.73,152.14" fill="#000" opacity="1"/>
<circle cx="295.30" cy="152.30" r="1.44" fill="#000" opacity="1"/>
<circle cx="300.60" cy="153.50" r="1.44" fill="#000" opacity="1"/>
<line x1="312.40" y1="161.60" x2="325.40" y2="161.60" stroke="#222" stroke-width="1.0" opacity="1"/>
<line x1="318.90" y1="160.40" x2="318.90" y2="162.80" stroke="#222" stroke-width="1.0" opacity="1"/>
<line x1="315.60" y1="160.40" x2="322.20" y2="160.40" stroke="#222" stroke-width="1.0" opacity="1"/>
<line x1="315.60" y1="162.80" x2="322.20" y2="162.80" stroke="#222" stroke-width="1.0" opacity="1"/>
<rect x="312.26" y="159.56" width="2.88" height="2.88" fill="#000" opacity="1"/>
<circle cx="318.80" cy="161.60" r="1.44" fill="#000" opacity="1"/>
<polygon points="323.70,164.63 321.97,161.46 325.43,161.46" fill="#000" opacity="1"/>
<line x1="334.90" y1="154.75" x2="349.90" y2="154.75" stroke="#222" stroke-width="0.8" opacity="1"/>
<line x1="342.40" y1="148.10" x2="342.40" y2="161.90" stroke="#222" stroke-width="0.8" opacity="1"/>
<line x1="338.70" y1="148.10" x2="346.10" y2="148.10" stroke="#222" stroke-width="0.8" opacity="1"/>
<line x1="338.70" y1="161.90" x2="346.10" y2="161.90" stroke="#222" stroke-width="0.8" opacity="1"/>
<polygon points="338.10,149.16 336.66,151.80 339.54,151.80" fill="#000" opacity="1"/>
<circle cx="346.00" cy="152.20" r="1.20" fill="#000" opacity="1"/>
<circle cx="342.40" cy="162.20" r="1.20" fill="#000" opacity="1"/>
<line x1="357.70" y1="177.50" x2="372.70" y2="177.50" stroke="#222" stroke-width="0.8" opacity="1"/>
<line x1="365.20" y1="171.50" x2="365.20" y2="182.30" stroke="#222" stroke-width="0.8" opacity="1"/>
<line x1="361.50" y1="171.50" x2="368.90" y2="171.50" stroke="#222" stroke-width="0.8" opacity="1"/>
<line x1="361.50" y1="182.30" x2="368.90" y2="182.30" stroke="#222" stroke-width="0.8" opacity="1"/>
<circle cx="365.20" cy="171.70" r="1.20" fill="#000" opacity="1"/>
<polygon points="361.20,180.24 359.76,177.60 362.64,177.60" fill="#000" opacity="1"/>
<circle cx="369.60" cy="181.00" r="1.20" fill="#000" opacity="1"/>
<line x1="417.60" y1="135.40" x2="417.60" y2="203.30" stroke="#666" stroke-width="1.4" opacity="1"/>
<line x1="417.10" y1="203.30" x2="519.50" y2="203.30" stroke="#444" stroke-width="1.1" opacity="1"/>
<line x1="416.20" y1="203.20" x2="417.90" y2="203.20" stroke="#5f6a6a" stroke-width="0.7" opacity="1"/>
<line x1="416.20" y1="180.70" x2="417.90" y2="180.70" stroke="#5f6a6a" stroke-width="0.7" opacity="1"/>
<line x1="416.20" y1="158.20" x2="417.90" y2="158.20" stroke="#5f6a6a" stroke-width="0.7" opacity="1"/>
<line x1="416.20" y1="135.70" x2="417.90" y2="135.70" stroke="#5f6a6a" stroke-width="0.7" opacity="1"/>
<text x="414.00" y="204.80" font-size="4.5" font-weight="bold" text-anchor="end" fill="#111" stroke="#111" stroke-width="0.18">0</text>
<text x="414.00" y="182.30" font-size="4.5" font-weight="bold" text-anchor="end" fill="#111" stroke="#111" stroke-width="0.18">2</text>
<text x="414.00" y="159.80" font-size="4.5" font-weight="bold" text-anchor="end" fill="#111" stroke="#111" stroke-width="0.18">4</text>
<text x="414.00" y="137.30" font-size="4.5" font-weight="bold" text-anchor="end" fill="#111" stroke="#111" stroke-width="0.18">6</text>
<line x1="433.50" y1="203.20" x2="433.50" y2="205.60" stroke="#5f6a6a" stroke-width="0.7" opacity="1"/>
<line x1="456.60" y1="203.20" x2="456.60" y2="205.60" stroke="#5f6a6a" stroke-width="0.7" opacity="1"/>
<line x1="479.70" y1="203.20" x2="479.70" y2="205.60" stroke="#5f6a6a" stroke-width="0.7" opacity="1"/>
<line x1="503.30" y1="203.20" x2="503.30" y2="205.60" stroke="#5f6a6a" stroke-width="0.7" opacity="1"/>
<text x="407.20" y="169.80" font-size="5.3" font-weight="bold" text-anchor="middle" fill="#111" transform="rotate(-90 407.20 169.80)" textLength="43" lengthAdjust="spacingAndGlyphs" stroke="#111" stroke-width="0.18">S6_pS235_S236</text>
<text x="469.00" y="126.60" font-size="6.5" font-weight="bold" text-anchor="middle" fill="#111" textLength="26.4" lengthAdjust="spacingAndGlyphs" stroke="#111" stroke-width="0.18">BCX.010</text>
<text x="434.50" y="211.00" font-size="5.0" font-weight="bold" text-anchor="end" fill="#111" transform="rotate(-45 434.50 211.00)" stroke="#111" stroke-width="0.12">Vehicle</text>
<text x="457.60" y="211.00" font-size="5.0" font-weight="bold" text-anchor="end" fill="#111" transform="rotate(-45 457.60 211.00)" stroke="#111" stroke-width="0.12">IACS-10759</text>
<text x="480.70" y="211.00" font-size="5.0" font-weight="bold" text-anchor="end" fill="#111" transform="rotate(-45 480.70 211.00)" stroke="#111" stroke-width="0.12">Cabozantinib</text>
<text x="504.30" y="211.00" font-size="5.0" font-weight="bold" text-anchor="end" fill="#111" transform="rotate(-45 504.30 211.00)" stroke="#111" stroke-width="0.12">IACS-10759 + Cabozantinib</text>
<polyline points="457.80,140.60 457.80,136.50 506.60,136.50 506.60,140.60" fill="none" stroke="#222" stroke-width="0.8" stroke-linejoin="round" opacity="1"/>
<polyline points="479.00,150.40 479.00,145.40 506.60,145.40 506.60,150.40" fill="none" stroke="#222" stroke-width="0.8" stroke-linejoin="round" opacity="1"/>
<path d="M492.80,127.60 L493.38,129.00 L494.88,128.80 L493.95,130.00 L494.88,131.20 L493.38,131.00 L492.80,132.40 L492.23,131.00 L490.72,131.20 L491.65,130.00 L490.72,128.80 L492.23,129.00Z" fill="#222"/>
<path d="M493.10,138.60 L493.68,140.00 L495.18,139.80 L494.25,141.00 L495.18,142.20 L493.68,142.00 L493.10,143.40 L492.53,142.00 L491.02,142.20 L491.95,141.00 L491.02,139.80 L492.53,140.00Z" fill="#222"/>
<line x1="425.60" y1="156.25" x2="440.60" y2="156.25" stroke="#222" stroke-width="0.8" opacity="1"/>
<line x1="433.10" y1="147.80" x2="433.10" y2="164.40" stroke="#222" stroke-width="0.8" opacity="1"/>
<line x1="429.40" y1="147.80" x2="436.80" y2="147.80" stroke="#222" stroke-width="0.8" opacity="1"/>
<line x1="429.40" y1="164.40" x2="436.80" y2="164.40" stroke="#222" stroke-width="0.8" opacity="1"/>
<circle cx="433.10" cy="146.90" r="1.20" fill="#000" opacity="1"/>
<circle cx="429.40" cy="159.80" r="1.20" fill="#000" opacity="1"/>
<circle cx="437.30" cy="161.90" r="1.20" fill="#000" opacity="1"/>
<line x1="449.10" y1="166.30" x2="464.10" y2="166.30" stroke="#222" stroke-width="0.8" opacity="1"/>
<line x1="456.60" y1="156.20" x2="456.60" y2="175.20" stroke="#222" stroke-width="0.8" opacity="1"/>
<line x1="452.90" y1="156.20" x2="460.30" y2="156.20" stroke="#222" stroke-width="0.8" opacity="1"/>
<line x1="452.90" y1="175.20" x2="460.30" y2="175.20" stroke="#222" stroke-width="0.8" opacity="1"/>
<circle cx="456.60" cy="156.20" r="1.20" fill="#000" opacity="1"/>
<circle cx="456.60" cy="167.50" r="1.20" fill="#000" opacity="1"/>
<polygon points="456.60,173.56 455.16,176.20 458.04,176.20" fill="#000" opacity="1"/>
<line x1="472.30" y1="168.80" x2="487.30" y2="168.80" stroke="#222" stroke-width="0.8" opacity="1"/>
<line x1="479.80" y1="159.80" x2="479.80" y2="177.20" stroke="#222" stroke-width="0.8" opacity="1"/>
<line x1="476.10" y1="159.80" x2="483.50" y2="159.80" stroke="#222" stroke-width="0.8" opacity="1"/>
<line x1="476.10" y1="177.20" x2="483.50" y2="177.20" stroke="#222" stroke-width="0.8" opacity="1"/>
<circle cx="479.80" cy="159.80" r="1.20" fill="#000" opacity="1"/>
<circle cx="479.80" cy="171.70" r="1.20" fill="#000" opacity="1"/>
<polygon points="479.80,175.56 478.36,178.20 481.24,178.20" fill="#000" opacity="1"/>
<line x1="496.10" y1="187.60" x2="511.10" y2="187.60" stroke="#222" stroke-width="0.8" opacity="1"/>
<line x1="503.60" y1="182.80" x2="503.60" y2="191.90" stroke="#222" stroke-width="0.8" opacity="1"/>
<line x1="499.90" y1="182.80" x2="507.30" y2="182.80" stroke="#222" stroke-width="0.8" opacity="1"/>
<line x1="499.90" y1="191.90" x2="507.30" y2="191.90" stroke="#222" stroke-width="0.8" opacity="1"/>
<circle cx="503.60" cy="182.60" r="1.20" fill="#000" opacity="1"/>
<polygon points="500.00,189.84 498.56,187.20 501.44,187.20" fill="#000" opacity="1"/>
<circle cx="506.70" cy="190.90" r="1.20" fill="#000" opacity="1"/>
</svg>
</body></html>
